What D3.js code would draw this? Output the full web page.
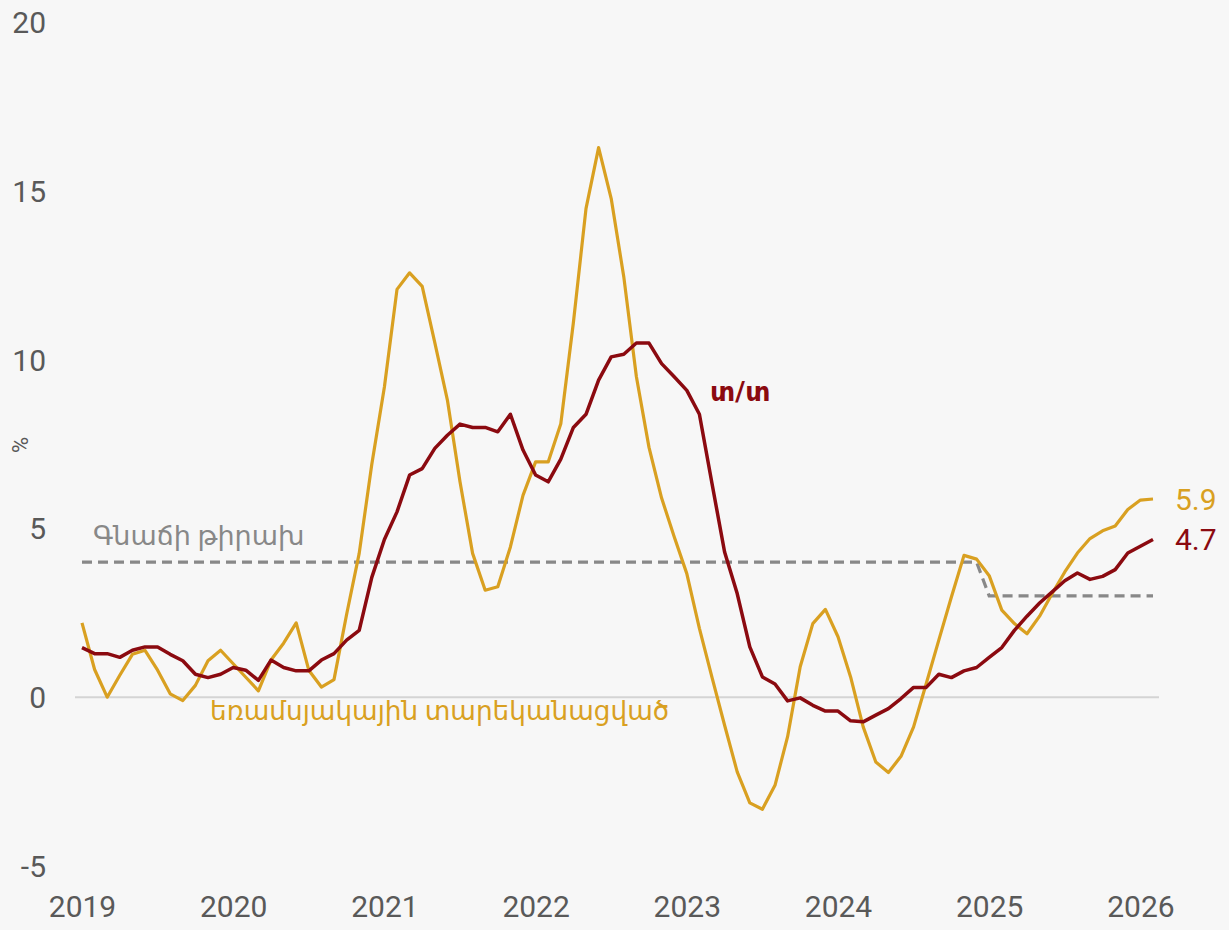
<!DOCTYPE html>
<html>
<head>
<meta charset="utf-8">
<script src="https://cdn.jsdelivr.net/npm/d3@7"></script>
<style>
  html, body { margin: 0; padding: 0; background: #f7f7f7; }
  svg { display: block; }
  text { font-family: Roboto, "Noto Sans", "DejaVu Sans", sans-serif; }
</style>
</head>
<body>
<div id="chart"></div>
<script>
// ---- data (monthly, Jan 2019 .. Feb 2026) ----
const startYear = 2019;
const annualized3m = [
  2.2, 0.82, 0.0, 0.65, 1.27, 1.39, 0.8, 0.1, -0.1, 0.35, 1.08, 1.39,
  0.99, 0.59, 0.19, 1.1, 1.6, 2.2, 0.8, 0.3, 0.52, 2.45, 4.26, 6.9,
  9.19, 12.08, 12.57, 12.17, 10.5, 8.8, 6.38, 4.26, 3.17, 3.27, 4.45, 5.98,
  6.97, 6.97, 8.1, 11.1, 14.47, 16.28, 14.77, 12.45, 9.49, 7.4, 5.9, 4.75,
  3.66, 2.04, 0.59, -0.83, -2.21, -3.13, -3.32, -2.61, -1.17, 0.9, 2.18, 2.6,
  1.79, 0.6, -0.88, -1.92, -2.23, -1.75, -0.88, 0.4, 1.69, 2.97, 4.2, 4.09,
  3.6, 2.58, 2.18, 1.88, 2.4, 3.07, 3.71, 4.27, 4.7, 4.93, 5.07, 5.56,
  5.84, 5.87
];
const yoy = [
  1.47, 1.29, 1.29, 1.18, 1.39, 1.49, 1.49, 1.27, 1.08, 0.68, 0.58, 0.68,
  0.88, 0.8, 0.5, 1.1, 0.88, 0.78, 0.78, 1.1, 1.29, 1.69, 1.98, 3.55,
  4.67, 5.49, 6.58, 6.77, 7.37, 7.76, 8.09, 7.99, 7.99, 7.86, 8.38, 7.32,
  6.58, 6.38, 7.05, 7.99, 8.38, 9.39, 10.08, 10.16, 10.49, 10.49, 9.88, 9.49,
  9.09, 8.38, 6.33, 4.3, 3.07, 1.49, 0.6, 0.39, -0.11, -0.02, -0.24, -0.41,
  -0.41, -0.7, -0.73, -0.53, -0.34, -0.04, 0.29, 0.29, 0.68, 0.58, 0.78, 0.88,
  1.18, 1.47, 1.98, 2.4, 2.79, 3.12, 3.45, 3.68, 3.49, 3.58, 3.78, 4.27,
  4.47, 4.67
];
const target = [
  4,4,4,4,4,4,4,4,4,4,4,4, 4,4,4,4,4,4,4,4,4,4,4,4,
  4,4,4,4,4,4,4,4,4,4,4,4, 4,4,4,4,4,4,4,4,4,4,4,4,
  4,4,4,4,4,4,4,4,4,4,4,4, 4,4,4,4,4,4,4,4,4,4,4,4,
  3,3,3,3,3,3,3,3,3,3,3,3, 3,3
];
const yTicks = [-5, 0, 5, 10, 15, 20];
const xTicks = [2019, 2020, 2021, 2022, 2023, 2024, 2025, 2026];
const labelTarget = "Գնաճի թիրախ";
const labelYoy = "տ/տ";
const labelAnn = "եռամսյակային տարեկանացված";
const yAxisTitle = "%";

// ---- layout ----
const W = 1229, H = 930;
const colAnn = "#D9A021", colYoy = "#8B0A10", colTarget = "#888888", colText = "#595959";

const svg = d3.select("#chart").append("svg").attr("width", W).attr("height", H);
svg.append("rect").attr("width", W).attr("height", H).attr("fill", "#f7f7f7");

const x = d3.scaleLinear().domain([2019, 2026]).range([82, 1140.4]);
const y = d3.scaleLinear().domain([-5, 20]).range([866, 22]);
const t = i => startYear + i / 12;

// zero line
svg.append("line")
  .attr("x1", 75).attr("x2", 1159)
  .attr("y1", y(0)).attr("y2", y(0))
  .attr("stroke", "#d4d4d4").attr("stroke-width", 2);

// y axis
const yAxis = d3.axisLeft(y).tickValues(yTicks).tickFormat(d => String(d)).tickSize(0).tickPadding(0);
const gy = svg.append("g").attr("transform", "translate(46,0)").call(yAxis);
gy.select(".domain").remove();
gy.selectAll("text").attr("font-size", 30).attr("fill", colText).attr("dy", "0.35em");

// x axis
const xAxis = d3.axisBottom(x).tickValues(xTicks).tickFormat(d3.format("d")).tickSize(0).tickPadding(0);
const gx = svg.append("g").attr("transform", "translate(0,896)").call(xAxis);
gx.select(".domain").remove();
gx.selectAll("text").attr("font-size", 30).attr("fill", colText).attr("dy", "0.71em");

// y title
svg.append("text")
  .attr("transform", "translate(28,445) rotate(-90)")
  .attr("text-anchor", "middle")
  .attr("font-size", 22).attr("fill", colText)
  .text(yAxisTitle);

const line = arr => d3.line().x((d, i) => x(t(i))).y(d => y(d))(arr);

// target dashed
svg.append("path").attr("d", line(target))
  .attr("fill", "none").attr("stroke", colTarget)
  .attr("stroke-width", 3.2).attr("stroke-dasharray", "10,6");

// annualized
svg.append("path").attr("d", line(annualized3m))
  .attr("fill", "none").attr("stroke", colAnn)
  .attr("stroke-width", 3.2).attr("stroke-linejoin", "round");

// yoy
svg.append("path").attr("d", line(yoy))
  .attr("fill", "none").attr("stroke", colYoy)
  .attr("stroke-width", 3.5).attr("stroke-linejoin", "round");

// end labels
const n = yoy.length - 1;
svg.append("text")
  .attr("x", x(t(n)) + 22).attr("y", y(annualized3m[n]))
  .attr("dy", "0.35em").attr("font-size", 30).attr("fill", colAnn)
  .text(d3.format(".1f")(annualized3m[n]));
svg.append("text")
  .attr("x", x(t(n)) + 22).attr("y", y(yoy[n]))
  .attr("dy", "0.35em").attr("font-size", 30).attr("fill", colYoy)
  .text(d3.format(".1f")(yoy[n]));

// series labels
svg.append("text")
  .attr("x", 93).attr("y", 545)
  .attr("font-size", 27).attr("fill", colTarget)
  .text(labelTarget);
svg.append("text")
  .attr("x", 710).attr("y", 401)
  .attr("font-size", 27).attr("font-weight", "bold").attr("fill", colYoy)
  .text(labelYoy);
svg.append("text")
  .attr("x", 210).attr("y", 720)
  .attr("font-size", 26.3).attr("fill", colAnn)
  .text(labelAnn);
</script>
</body>
</html>
